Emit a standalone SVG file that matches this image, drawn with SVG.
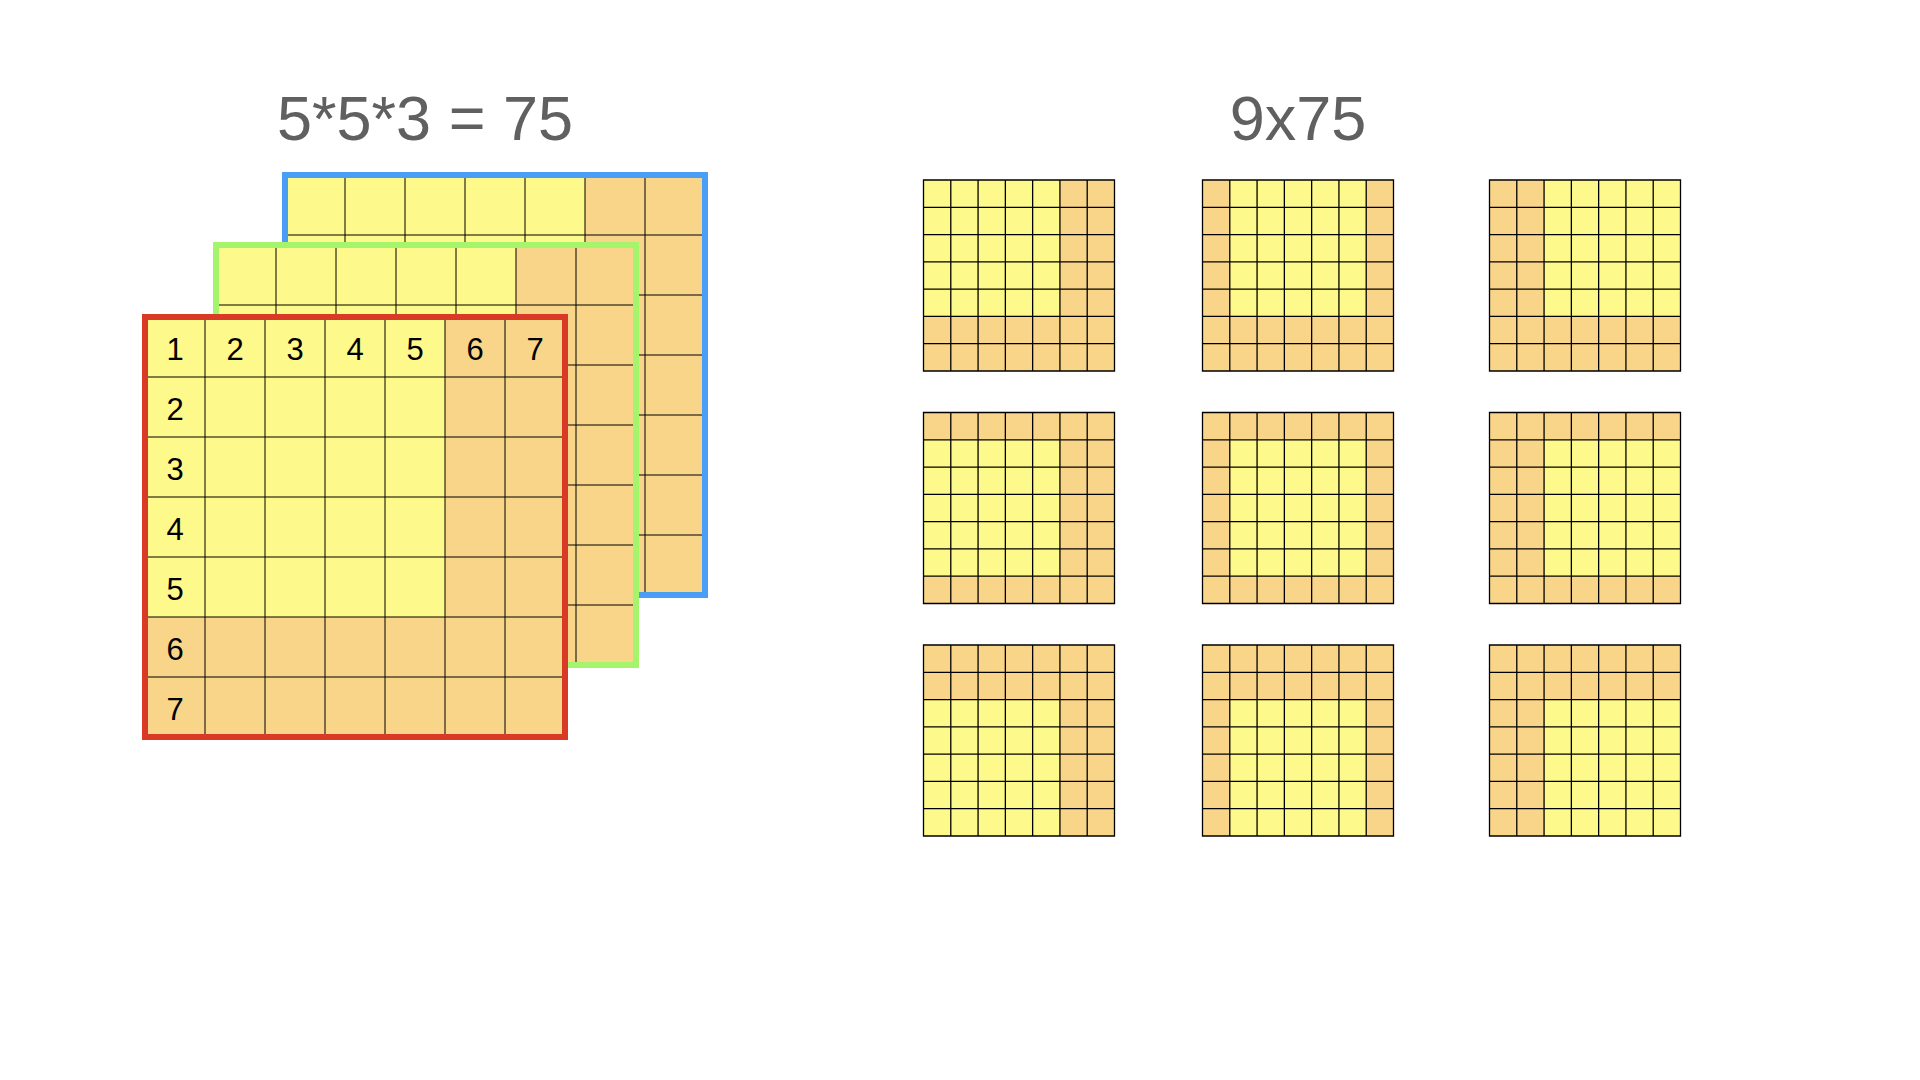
<svg xmlns="http://www.w3.org/2000/svg" xmlns:xlink="http://www.w3.org/1999/xlink" width="1920" height="1080" viewBox="0 0 1920 1080">
<style>
.o{fill:#F8D589}
.y{fill:#FDF98A}
.gl{fill:none;stroke:#000;stroke-width:1}
.gs{fill:none;stroke:#000;stroke-width:1.3}
.title{font-family:"Liberation Sans",Arial,Helvetica,sans-serif;font-size:63px;fill:#606060;text-anchor:middle}
.lbl{font-family:"Liberation Sans",Arial,Helvetica,sans-serif;font-size:31px;fill:#000;text-anchor:middle}
.fr{fill:none;stroke-width:6}
</style>
<defs>
<path id="g420" d="M60 0V420M120 0V420M180 0V420M240 0V420M300 0V420M360 0V420M0 60H420M0 120H420M0 180H420M0 240H420M0 300H420M0 360H420"/>
<path id="g191" d="M0 0H191V191H0ZM27.29 0V191M54.57 0V191M81.86 0V191M109.14 0V191M136.43 0V191M163.71 0V191M0 27.29H191M0 54.57H191M0 81.86H191M0 109.14H191M0 136.43H191M0 163.71H191"/>
</defs>
<rect width="1920" height="1080" fill="#fff"/>
<g id="titles">
<text class="title" x="425" y="140">5*5*3 = 75</text>
<text class="title" x="1298" y="140">9x75</text>
</g>
<g id="channel-blue" transform="translate(285 175)">
<rect class="o" width="420" height="420"/><rect class="y" width="300" height="300"/>
<use xlink:href="#g420" class="gl"/>
<rect class="fr" width="420" height="420" stroke="#4A9EF5"/>
</g>
<g id="channel-green" transform="translate(216 245)">
<rect class="o" width="420" height="420"/><rect class="y" width="300" height="300"/>
<use xlink:href="#g420" class="gl"/>
<rect class="fr" width="420" height="420" stroke="#A4F56B"/>
</g>
<g id="channel-red" transform="translate(145 317)">
<rect class="o" width="420" height="420"/><rect class="y" width="300" height="300"/>
<use xlink:href="#g420" class="gl"/>
<rect class="fr" width="420" height="420" stroke="#D93A26"/>
<text class="lbl" x="30" y="43">1</text><text class="lbl" x="90" y="43">2</text><text class="lbl" x="150" y="43">3</text><text class="lbl" x="210" y="43">4</text><text class="lbl" x="270" y="43">5</text><text class="lbl" x="330" y="43">6</text><text class="lbl" x="390" y="43">7</text>
<text class="lbl" x="30" y="103">2</text><text class="lbl" x="30" y="163">3</text><text class="lbl" x="30" y="223">4</text><text class="lbl" x="30" y="283">5</text><text class="lbl" x="30" y="343">6</text><text class="lbl" x="30" y="403">7</text>
</g>
<g id="pos-1-1" transform="translate(923.5 180)"><rect class="o" width="191" height="191"/><rect class="y" x="0" y="0" width="136.43" height="136.43"/><use xlink:href="#g191" class="gs"/></g>
<g id="pos-1-2" transform="translate(1202.5 180)"><rect class="o" width="191" height="191"/><rect class="y" x="27.29" y="0" width="136.43" height="136.43"/><use xlink:href="#g191" class="gs"/></g>
<g id="pos-1-3" transform="translate(1489.5 180)"><rect class="o" width="191" height="191"/><rect class="y" x="54.57" y="0" width="136.43" height="136.43"/><use xlink:href="#g191" class="gs"/></g>
<g id="pos-2-1" transform="translate(923.5 412.5)"><rect class="o" width="191" height="191"/><rect class="y" x="0" y="27.29" width="136.43" height="136.43"/><use xlink:href="#g191" class="gs"/></g>
<g id="pos-2-2" transform="translate(1202.5 412.5)"><rect class="o" width="191" height="191"/><rect class="y" x="27.29" y="27.29" width="136.43" height="136.43"/><use xlink:href="#g191" class="gs"/></g>
<g id="pos-2-3" transform="translate(1489.5 412.5)"><rect class="o" width="191" height="191"/><rect class="y" x="54.57" y="27.29" width="136.43" height="136.43"/><use xlink:href="#g191" class="gs"/></g>
<g id="pos-3-1" transform="translate(923.5 645)"><rect class="o" width="191" height="191"/><rect class="y" x="0" y="54.57" width="136.43" height="136.43"/><use xlink:href="#g191" class="gs"/></g>
<g id="pos-3-2" transform="translate(1202.5 645)"><rect class="o" width="191" height="191"/><rect class="y" x="27.29" y="54.57" width="136.43" height="136.43"/><use xlink:href="#g191" class="gs"/></g>
<g id="pos-3-3" transform="translate(1489.5 645)"><rect class="o" width="191" height="191"/><rect class="y" x="54.57" y="54.57" width="136.43" height="136.43"/><use xlink:href="#g191" class="gs"/></g>
<g id="connectors"/>
</svg>
